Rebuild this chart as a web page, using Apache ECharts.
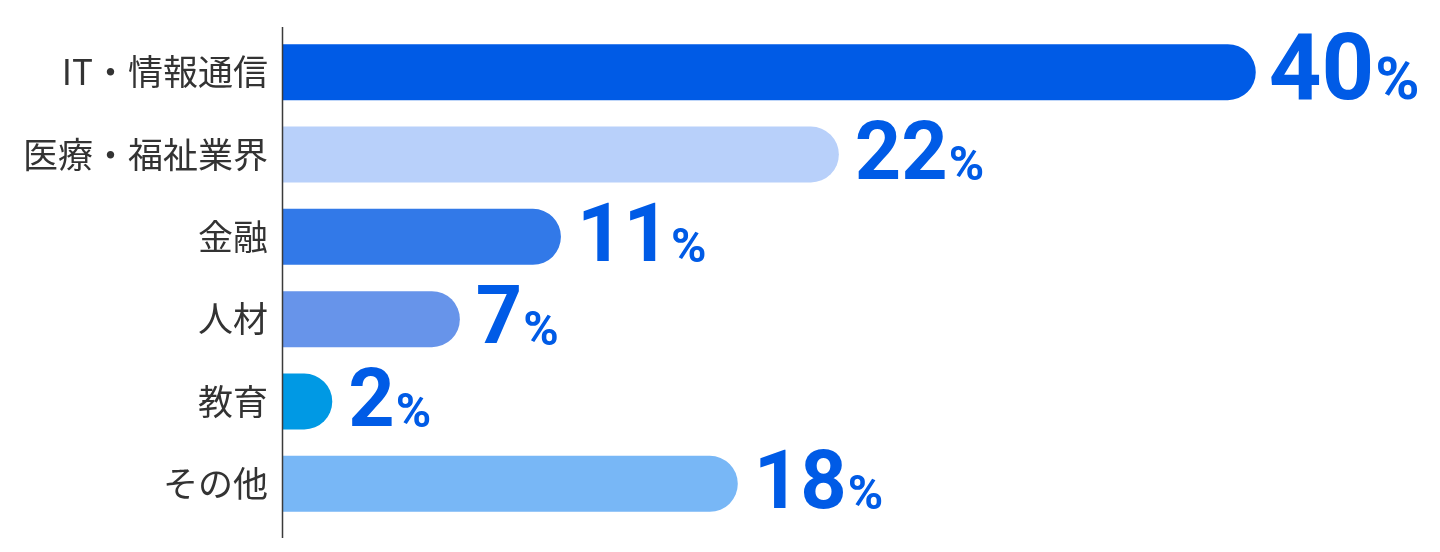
<!DOCTYPE html>
<html>
<head>
<meta charset="utf-8">
<script src="https://cdn.jsdelivr.net/npm/echarts@6/dist/echarts.min.js"></script>
<style>
html,body{margin:0;padding:0;background:#fff;}
#chart{width:1440px;height:552px;}
</style>
</head>
<body>
<div id="chart"></div>
<script>
const categories = ['IT・情報通信', '医療・福祉業界', '金融', '人材', '教育', 'その他'];
const values = [38.5, 22, 11, 7, 1.95, 18];
const percentLabels = ['40', '22', '11', '7', '2', '18'];
const barColors = ['#005BE6', '#B8D0FA', '#3279E8', '#6794EA', '#0099E4', '#78B7F6'];

const chart = echarts.init(document.getElementById('chart'));
const numFont = 'Roboto, sans-serif';

const option = {
  animation: false,
  grid: { left: 283, right: 20, top: 31, bottom: 27, containLabel: false },
  xAxis: {
    type: 'value', min: 0, max: 45,
    show: false
  },
  yAxis: {
    type: 'category',
    data: categories,
    inverse: true,
    axisLine: { show: false },
    axisTick: { show: false },
    axisLabel: {
      color: '#333333',
      fontSize: 35,
      fontFamily: '"Noto Sans CJK JP", sans-serif',
      margin: 15
    }
  },
  series: [{
    type: 'bar',
    barWidth: 56,
    data: values.map((v, i) => ({
      value: v,
      itemStyle: { color: barColors[i], borderRadius: [0, 28, 28, 0] },
      label: {
        show: true,
        position: 'right',
        distance: i === 0 ? 13 : 16,
        offset: [0, 4],
        formatter: i === 0 ? '{nb|' + percentLabels[i] + '}{pb|%}' : '{n|' + percentLabels[i] + '}{p|%}'
      }
    })),
    label: {
      rich: {
        n: { fontFamily: numFont, fontWeight: 'bold', fontSize: 81, color: '#005BE6', lineHeight: 81, verticalAlign: 'bottom' },
        p: { fontFamily: numFont, fontWeight: 'bold', fontSize: 48, color: '#005BE6', lineHeight: 48, verticalAlign: 'bottom', padding: [0, 0, 7, 1] },
        nb: { fontFamily: numFont, fontWeight: 'bold', fontSize: 92, color: '#005BE6', lineHeight: 92, verticalAlign: 'bottom' },
        pb: { fontFamily: numFont, fontWeight: 'bold', fontSize: 60, color: '#005BE6', lineHeight: 60, verticalAlign: 'bottom', padding: [0, 0, 8, 1] }
      }
    }
  }]
};
chart.setOption(option);

const x0 = chart.convertToPixel({ xAxisIndex: 0 }, 0);
chart.setOption({
  graphic: [{
    type: 'line',
    shape: { x1: x0 - 0.5, y1: 27, x2: x0 - 0.5, y2: 538 },
    style: { stroke: '#3a3a3a', lineWidth: 1.5 },
    z: 10
  }]
});
</script>
</body>
</html>
